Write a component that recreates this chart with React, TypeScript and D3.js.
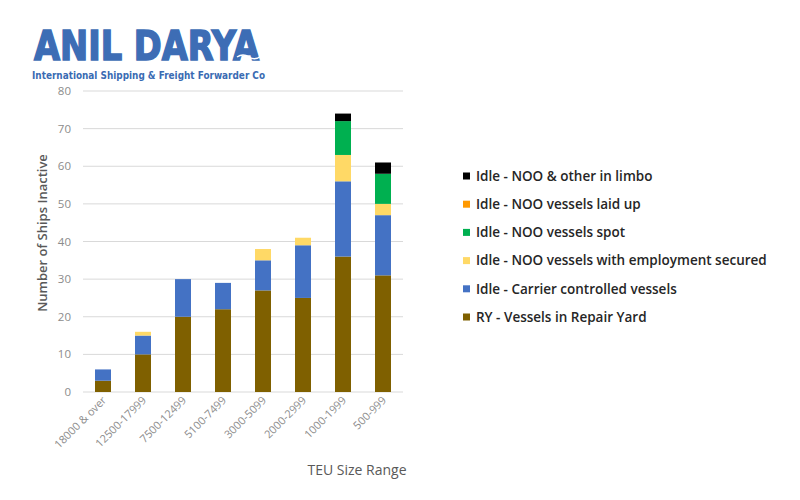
import React from "react";
import * as d3 from "d3";

const categories = ["18000 & over", "12500-17999", "7500-12499", "5100-7499", "3000-5099", "2000-2999", "1000-1999", "500-999"];
const seriesNames = [
  "RY - Vessels in Repair Yard",
  "Idle - Carrier controlled vessels",
  "Idle - NOO vessels with employment secured",
  "Idle - NOO vessels spot",
  "Idle - NOO vessels laid up",
  "Idle - NOO & other in limbo",
];
const seriesColors = ["#7f6000", "#4472c4", "#ffd966", "#00b050", "#ff9900", "#000000"];
const repairYard = [3, 10, 20, 22, 27, 25, 36, 31];
const carrierControlled = [3, 5, 10, 7, 8, 14, 20, 16];
const employmentSecured = [0, 1, 0, 0, 3, 2, 7, 3];
const spot = [0, 0, 0, 0, 0, 0, 9, 8];
const laidUp = [0, 0, 0, 0, 0, 0, 0, 0];
const limbo = [0, 0, 0, 0, 0, 0, 2, 3];
const yTicks = [0, 10, 20, 30, 40, 50, 60, 70, 80];

const seriesValues = [repairYard, carrierControlled, employmentSecured, spot, laidUp, limbo];

export default function App() {
  const width = 800;
  const height = 500;
  const x = d3.scaleBand<string>().domain(categories).range([83, 403]).paddingInner(0.6).paddingOuter(0.3);
  const y = d3.scaleLinear().domain([0, 80]).range([392, 91]);

  const rows = categories.map((c, i) => {
    const r: any = { cat: c };
    seriesNames.forEach((s, k) => (r[s] = seriesValues[k][i]));
    return r;
  });
  const stacked = d3.stack<any>().keys(seriesNames)(rows);

  const font = "'Open Sans', 'Liberation Sans', sans-serif";
  const legendOrder = [5, 4, 3, 2, 1, 0];

  return (
    <svg width={width} height={height} style={{ position: "absolute", left: 0, top: 0, background: "#fff" }}>
      <rect x={0} y={0} width={width} height={height} fill="#fff" />
      {/* Logo */}
      <text x={34} y={60} fontFamily="'DejaVu Sans', sans-serif" fontWeight={900} fontSize={40}
        textLength={225} lengthAdjust="spacingAndGlyphs" fill="#3d6db5" stroke="#3d6db5" strokeWidth={1.6}>ANIL DARYA</text>
      <path d="M237,57 q6,-4 12,0 q6,4 12,-1" fill="none" stroke="#fff" strokeWidth={1.5} />
      <text x={32} y={79} fontFamily="'DejaVu Sans', sans-serif" fontWeight={700} fontSize={10}
        textLength={233} lengthAdjust="spacingAndGlyphs" fill="#3a6bb3">International Shipping &amp; Freight Forwarder Co</text>

      {/* gridlines */}
      {yTicks.map((t) => (
        <g key={t}>
          <line x1={83} x2={403} y1={y(t)} y2={y(t)} stroke="#d9d9d9" strokeWidth={1} />
          <text x={71} y={y(t)} dy="0.35em" textAnchor="end" fontFamily={font} fontSize={11.5} fill="#8c8c8c">{t}</text>
        </g>
      ))}

      {/* bars */}
      {stacked.map((layer, k) => (
        <g key={k} fill={seriesColors[k]}>
          {layer.map((d, i) =>
            d[1] - d[0] > 0 ? (
              <rect key={i} x={x(categories[i])} width={x.bandwidth()} y={y(d[1])} height={y(d[0]) - y(d[1])} />
            ) : null
          )}
        </g>
      ))}

      {/* x labels */}
      {categories.map((c) => {
        const cx = (x(c) as number) + x.bandwidth() / 2 + 4;
        return (
          <text key={c} transform={`translate(${cx},${401}) rotate(-45)`} textAnchor="end" fontFamily={font}
            fontSize={11} fill="#8c8c8c">{c}</text>
        );
      })}

      <text transform={`translate(47,233) rotate(-90)`} textAnchor="middle" fontFamily={font} fontWeight={600}
        fontSize={13} fill="#595959">Number of Ships Inactive</text>
      <text x={357} y={475} textAnchor="middle" fontFamily={font} fontSize={14} fill="#595959">TEU Size Range</text>

      {/* legend */}
      {legendOrder.map((k, j) => {
        const ly = 176 + j * 28.2;
        return (
          <g key={k}>
            <rect x={463} y={ly - 3.5} width={7} height={7} fill={seriesColors[k]} />
            <text x={476} y={ly} dy="0.35em" fontFamily={font} fontWeight={600} fontSize={13.5} fill="#262626">
              {seriesNames[k]}
            </text>
          </g>
        );
      })}
    </svg>
  );
}
